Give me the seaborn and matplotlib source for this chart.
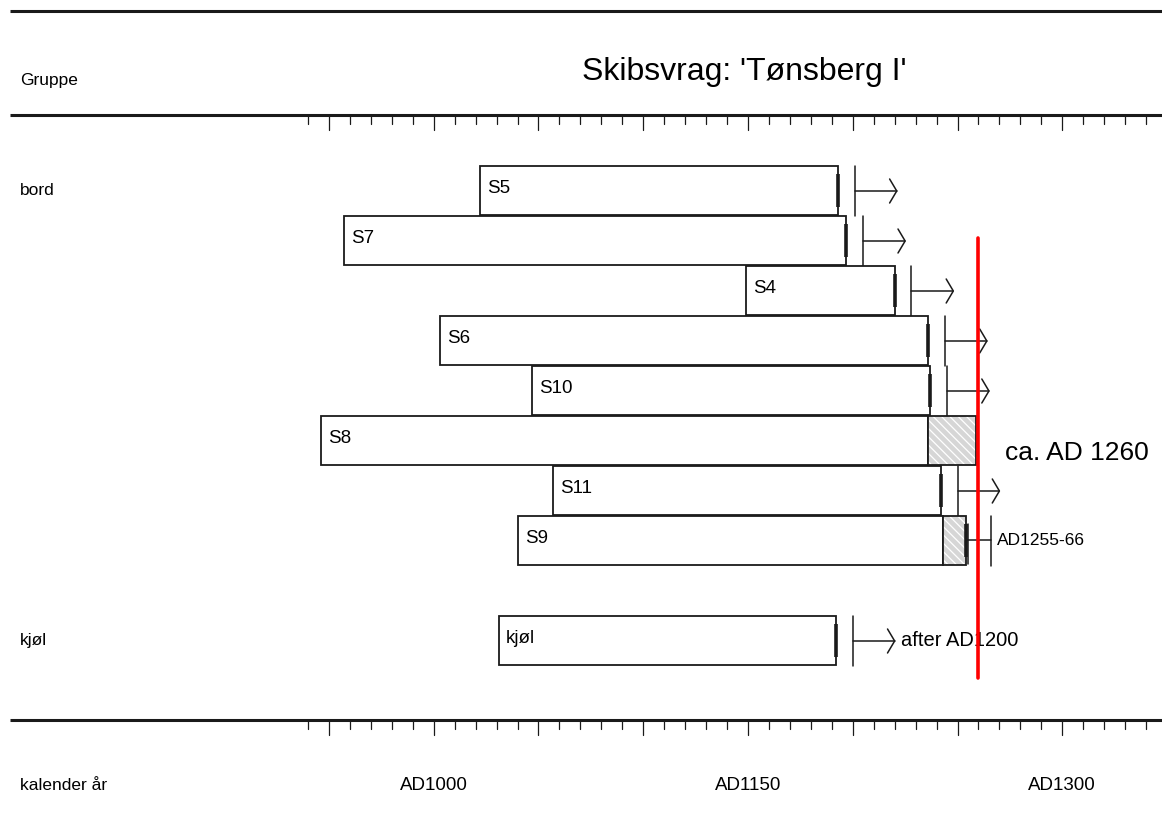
import numpy as np
import matplotlib
matplotlib.use('Agg')
import matplotlib.pyplot as plt
import seaborn as sns

# =============================
# Data (calendar years AD)
# =============================
samples = ['S5', 'S7', 'S4', 'S6', 'S10', 'S8', 'S11', 'S9', 'kjøl']
rows = [0, 1, 2, 3, 4, 5, 6, 7, 9]
start_year = [1022, 957, 1149, 1003, 1047, 946, 1057, 1040, 1031]
end_year = [1193, 1197, 1220, 1236, 1237, 1236, 1242, 1243, 1192]
sapwood_end = [None, None, None, None, None, 1259, None, 1254, None]
end_mark = [1193, 1197, 1220, 1236, 1237, None, 1242, 1254, 1192]
felling_after = [1201, 1205, 1228, 1244, 1245, None, 1250, None, 1200]
arrow_to = [1221, 1225, 1248, 1264, 1265, None, 1270, None, 1220]
felling_range = {'S9': (1255, 1266)}

groups = ['bord', 'kjøl']
group_rows = [0, 9]

date_line = 1260
date_text = 'ca. AD 1260'
range_text = 'AD1255-66'
after_text = 'after AD1200'
title = "Skibsvrag: 'Tønsberg I'"
axis_labels = ['AD1000', 'AD1150', 'AD1300']
axis_label_years = [1000, 1150, 1300]

# =============================
# Style
# =============================
sns.set_theme(style='white')
plt.rcParams['font.family'] = ['Liberation Sans', 'DejaVu Sans']
plt.rcParams['text.color'] = 'black'
plt.rcParams['hatch.linewidth'] = 0.9

fig = plt.figure(figsize=(11.62, 8.17), dpi=100)
ax = fig.add_axes([0, 0, 1, 1])
ax.set_xlim(793.0, 1347.6)
ax.set_ylim(12.54, -3.8)
ax.axis('off')

ink = '#1a1a1a'
bar_h = 0.98
lab_size = 13.5

# frame lines and ticks
for yl in [-3.58, -1.5, 10.6]:
    ax.plot([797.8, 1347.6], [yl, yl], color=ink, lw=2.2, solid_capstyle='butt')

tick_years = np.arange(940, 1350, 10)
for ty in tick_years:
    length = 0.3 if ty % 50 == 0 else 0.18
    ax.plot([ty, ty], [-1.5, -1.5 + length], color=ink, lw=0.9)
    ax.plot([ty, ty], [10.6, 10.6 + length], color=ink, lw=0.9)

# =============================
# Bars
# =============================
for i, name in enumerate(samples):
    r = rows[i]
    ax.barh(r, end_year[i] - start_year[i], left=start_year[i], height=bar_h,
            color='white', edgecolor=ink, linewidth=1.3, zorder=2)
    if sapwood_end[i] is not None:
        ax.barh(r, sapwood_end[i] - end_year[i], left=end_year[i], height=bar_h,
                color='#d6d6d6', edgecolor='white', linewidth=0, hatch='\\\\\\\\', zorder=2)
        ax.barh(r, sapwood_end[i] - end_year[i], left=end_year[i], height=bar_h,
                color='none', edgecolor=ink, linewidth=1.3, zorder=3)
    if end_mark[i] is not None:
        ax.plot([end_mark[i], end_mark[i]], [r - 0.33, r + 0.33], color=ink, lw=2.6,
                solid_capstyle='butt', zorder=4)
    ax.text(start_year[i] + 3.5, r - 0.04, name, fontsize=lab_size, va='center', ha='left',
            zorder=5)

    # "felled after" markers
    if felling_after[i] is not None:
        fa, at = felling_after[i], arrow_to[i]
        ax.plot([fa, fa], [r - 0.49, r + 0.51], color=ink, lw=1.1)
        ax.plot([fa, at], [r + 0.02, r + 0.02], color=ink, lw=1.1)
        ax.plot([at - 3.4, at, at - 3.4], [r - 0.22, r + 0.02, r + 0.26], color=ink, lw=1.1)

    if name in felling_range:
        lo, hi = felling_range[name]
        ax.plot([lo, lo], [r - 0.33, r + 0.47], color=ink, lw=1.1)
        ax.plot([hi, hi], [r - 0.49, r + 0.51], color=ink, lw=1.1)
        ax.plot([lo - 1, hi], [r, r], color=ink, lw=1.1)
        ax.text(hi + 3, r, range_text, fontsize=12.5, va='center', ha='left')

# kjøl annotation
ax.text(arrow_to[-1] + 3, rows[-1], after_text, fontsize=14.5, va='center', ha='left')

# estimated building date
ax.plot([date_line, date_line], [0.96, 9.76], color='#ff0000', lw=2.6, zorder=6)
ax.text(1272.5, 5.25, date_text, fontsize=19, va='center', ha='left')

# =============================
# Text labels
# =============================
ax.text(1148, -2.36, title, fontsize=23, va='center', ha='center')
ax.text(0.017, -2.2, 'Gruppe', fontsize=12.5, va='center', ha='left',
        transform=ax.get_yaxis_transform())
for g, gr in zip(groups, group_rows):
    ax.text(0.017, gr, g, fontsize=12.5, va='center', ha='left',
            transform=ax.get_yaxis_transform())
ax.text(0.017, 11.9, 'kalender år', fontsize=12.5, va='center', ha='left',
        transform=ax.get_yaxis_transform())
for lab, yr in zip(axis_labels, axis_label_years):
    ax.text(yr, 11.9, lab, fontsize=13.5, va='center', ha='center')

fig.savefig('out.png', dpi=100)
